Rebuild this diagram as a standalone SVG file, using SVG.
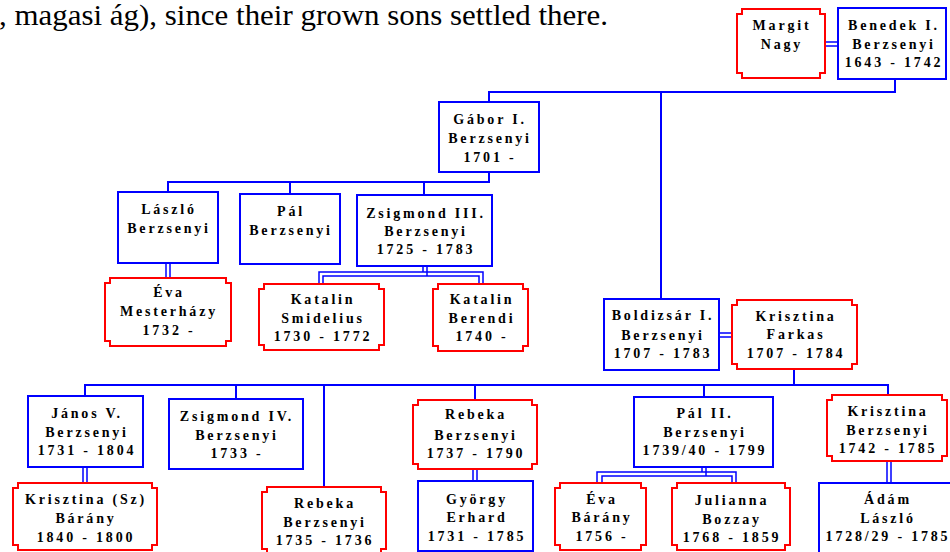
<svg xmlns="http://www.w3.org/2000/svg" width="950" height="552" viewBox="0 0 950 552">
  <style>
    .m { fill: #fff; stroke: #0000ff; stroke-width: 2; }
    .f { fill: #fff; stroke: #ff0000; stroke-width: 2; }
    .c { fill: none; stroke: #0000ff; stroke-width: 2; }
    .d { fill: none; stroke: #0000ff; stroke-width: 1.5; }
    .t { font-family: "Liberation Serif", "Times New Roman", serif; font-weight: bold; font-size: 14px; letter-spacing: 2.8px; text-anchor: middle; fill: #000; }
    .cap { font-family: "Liberation Serif", "Times New Roman", serif; font-size: 29px; fill: #000; }
  </style>
  <rect width="950" height="552" fill="#fff"/>

  <text class="cap" x="-1" y="25" textLength="609" lengthAdjust="spacingAndGlyphs">, magasi ág), since their grown sons settled there.</text>

  <!-- connectors -->
  <g id="connectors">
    <!-- descent lines -->
    <path class="c" d="M895,79 V92 H489 V102 M661,92 V299"/>
    <path class="c" d="M489,172 V182 H168 V192 M290,182 V194 M424,182 V195"/>
    <path class="c" d="M794,369 V385 M85,396 V385 H888 V395 M236,385 V399 M324,385 V487 M475,385 V400 M704,385 V397"/>
    <!-- marriage double lines -->
    <path class="d" d="M825,42 H838 M825,46 H838"/>
    <path class="d" d="M719,333 H732 M719,337 H732"/>
    <path class="d" d="M166,263 V278 M170,263 V278"/>
    <path class="d" d="M83,467 V483 M87,467 V483"/>
    <path class="d" d="M473,469 V481 M477,469 V481"/>
    <path class="d" d="M887,461 V483 M891,461 V483"/>
    <path class="d" d="M423,266 V272 M319,284 V272 H483 V284 M427,266 V276 M323,284 V276 H479 V284"/>
    <path class="d" d="M702,467 V472 M597,483 V472 H736 V483 M706,467 V476 M602,483 V476 H732 V483"/>
  </g>

  <g id="margit-nagy">
    <path class="f" d="M742,9 h78 v5 h5 v59 h-5 v5 h-78 v-5 h-5 v-59 h5 z"/>
    <text class="t" x="782" y="30">Margit</text>
    <text class="t" x="782" y="49">Nagy</text>
  </g>
  <g id="benedek-i">
    <rect class="m" x="838" y="8" width="108" height="71"/>
    <text class="t" x="894" y="30">Benedek I.</text>
    <text class="t" x="894" y="49">Berzsenyi</text>
    <text class="t" x="894" y="67">1643 - 1742</text>
  </g>
  <g id="gabor-i">
    <rect class="m" x="439" y="102" width="100" height="70"/>
    <text class="t" x="490" y="124">Gábor I.</text>
    <text class="t" x="490" y="143">Berzsenyi</text>
    <text class="t" x="490" y="162">1701 -</text>
  </g>
  <g id="laszlo">
    <rect class="m" x="118" y="192" width="100" height="71"/>
    <text class="t" x="169" y="214">László</text>
    <text class="t" x="169" y="233">Berzsenyi</text>
  </g>
  <g id="pal">
    <rect class="m" x="240" y="194" width="100" height="70"/>
    <text class="t" x="291" y="216">Pál</text>
    <text class="t" x="291" y="235">Berzsenyi</text>
  </g>
  <g id="zsigmond-iii">
    <rect class="m" x="357" y="195" width="135" height="71"/>
    <text class="t" x="426" y="218">Zsigmond III.</text>
    <text class="t" x="426" y="236">Berzsenyi</text>
    <text class="t" x="426" y="254">1725 - 1783</text>
  </g>
  <g id="eva-mesterhazy">
    <path class="f" d="M110,278 h116 v5 h5 v58 h-5 v5 h-116 v-5 h-5 v-58 h5 z"/>
    <text class="t" x="169" y="297">Éva</text>
    <text class="t" x="169" y="316">Mesterházy</text>
    <text class="t" x="169" y="335">1732 -</text>
  </g>
  <g id="katalin-smidelius">
    <path class="f" d="M264,284 h115 v5 h5 v56 h-5 v5 h-115 v-5 h-5 v-56 h5 z"/>
    <text class="t" x="323" y="304">Katalin</text>
    <text class="t" x="323" y="323">Smidelius</text>
    <text class="t" x="323" y="341">1730 - 1772</text>
  </g>
  <g id="katalin-berendi">
    <path class="f" d="M438,284 h85 v5 h5 v57 h-5 v5 h-85 v-5 h-5 v-57 h5 z"/>
    <text class="t" x="482" y="304">Katalin</text>
    <text class="t" x="482" y="323">Berendi</text>
    <text class="t" x="482" y="341">1740 -</text>
  </g>
  <g id="boldizsar-i">
    <rect class="m" x="604" y="299" width="115" height="71"/>
    <text class="t" x="663" y="320">Boldizsár I.</text>
    <text class="t" x="663" y="340">Berzsenyi</text>
    <text class="t" x="663" y="358">1707 - 1783</text>
  </g>
  <g id="krisztina-farkas">
    <path class="f" d="M737,300 h115 v5 h5 v59 h-5 v5 h-115 v-5 h-5 v-59 h5 z"/>
    <text class="t" x="796" y="321">Krisztina</text>
    <text class="t" x="796" y="339">Farkas</text>
    <text class="t" x="796" y="358">1707 - 1784</text>
  </g>
  <g id="janos-v">
    <rect class="m" x="28" y="396" width="115" height="71"/>
    <text class="t" x="87" y="418">János V.</text>
    <text class="t" x="87" y="437">Berzsenyi</text>
    <text class="t" x="87" y="455">1731 - 1804</text>
  </g>
  <g id="zsigmond-iv">
    <rect class="m" x="169" y="399" width="134" height="70"/>
    <text class="t" x="237" y="421">Zsigmond IV.</text>
    <text class="t" x="237" y="440">Berzsenyi</text>
    <text class="t" x="237" y="458">1733 -</text>
  </g>
  <g id="rebeka-1737">
    <path class="f" d="M418,400 h114 v5 h5 v59 h-5 v5 h-114 v-5 h-5 v-59 h5 z"/>
    <text class="t" x="476" y="419">Rebeka</text>
    <text class="t" x="476" y="440">Berzsenyi</text>
    <text class="t" x="476" y="458">1737 - 1790</text>
  </g>
  <g id="pal-ii">
    <rect class="m" x="634" y="397" width="139" height="70"/>
    <text class="t" x="705" y="418">Pál II.</text>
    <text class="t" x="705" y="437">Berzsenyi</text>
    <text class="t" x="705" y="455">1739/40 - 1799</text>
  </g>
  <g id="krisztina-berzsenyi">
    <path class="f" d="M832,395 h110 v5 h5 v56 h-5 v5 h-110 v-5 h-5 v-56 h5 z"/>
    <text class="t" x="888" y="416">Krisztina</text>
    <text class="t" x="888" y="435">Berzsenyi</text>
    <text class="t" x="888" y="453">1742 - 1785</text>
  </g>
  <g id="krisztina-sz-barany">
    <path class="f" d="M18,483 h134 v5 h5 v57 h-5 v5 h-134 v-5 h-5 v-57 h5 z"/>
    <text class="t" x="86" y="504">Krisztina (Sz)</text>
    <text class="t" x="86" y="523">Bárány</text>
    <text class="t" x="86" y="542">1840 - 1800</text>
  </g>
  <g id="rebeka-1735">
    <path class="f" d="M267,487 h114 v5 h5 v57 h-5 v5 h-114 v-5 h-5 v-57 h5 z"/>
    <text class="t" x="325" y="508">Rebeka</text>
    <text class="t" x="325" y="527">Berzsenyi</text>
    <text class="t" x="325" y="545">1735 - 1736</text>
  </g>
  <g id="gyorgy-erhard">
    <rect class="m" x="418" y="481" width="115" height="70"/>
    <text class="t" x="477" y="504">György</text>
    <text class="t" x="477" y="522">Erhard</text>
    <text class="t" x="477" y="541">1731 - 1785</text>
  </g>
  <g id="eva-barany">
    <path class="f" d="M560,483 h81 v5 h5 v57 h-5 v5 h-81 v-5 h-5 v-57 h5 z"/>
    <text class="t" x="602" y="504">Éva</text>
    <text class="t" x="602" y="522">Bárány</text>
    <text class="t" x="602" y="541">1756 -</text>
  </g>
  <g id="julianna-bozzay">
    <path class="f" d="M677,483 h108 v5 h5 v57 h-5 v5 h-108 v-5 h-5 v-57 h5 z"/>
    <text class="t" x="732" y="505">Julianna</text>
    <text class="t" x="732" y="524">Bozzay</text>
    <text class="t" x="732" y="542">1768 - 1859</text>
  </g>
  <g id="adam-laszlo">
    <rect class="m" x="819" y="483" width="136" height="70"/>
    <text class="t" x="888" y="504">Ádám</text>
    <text class="t" x="888" y="523">László</text>
    <text class="t" x="888" y="541">1728/29 - 1785</text>
  </g>
</svg>
